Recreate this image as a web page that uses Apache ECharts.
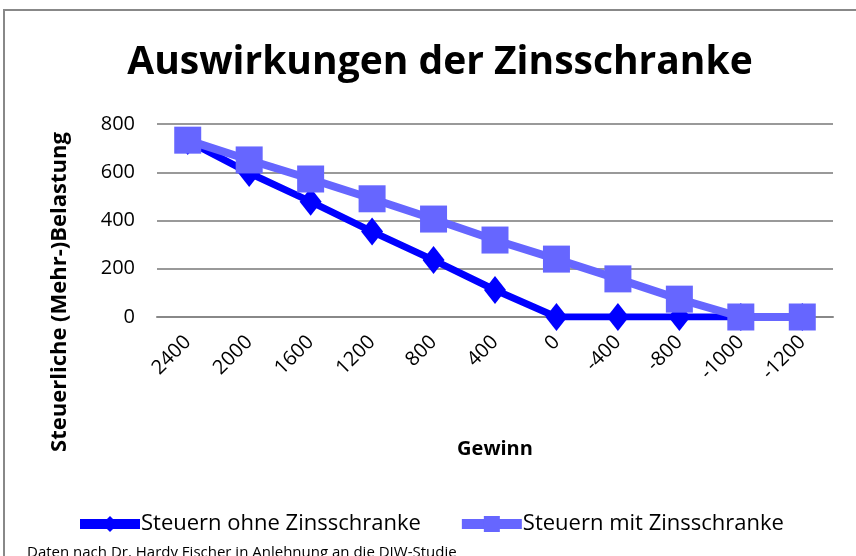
<!DOCTYPE html>
<html>
<head>
<meta charset="utf-8">
<script src="https://cdn.jsdelivr.net/npm/echarts@6/dist/echarts.min.js"></script>
<style>
  html, body { margin: 0; padding: 0; background: #fff; }
  #chart { width: 856px; height: 556px; }
</style>
</head>
<body>
<div id="chart"></div>
<script>
// Gewinn-Kategorien (x-Achse)
const categories = ["2400", "2000", "1600", "1200", "800", "400", "0", "-400", "-800", "-1000", "-1200"];
// Steuerliche Belastung
const ohneZinsschranke = [730, 597, 478, 354, 236, 112, 0, 0, 0, 0, 0];
const mitZinsschranke = [733, 651, 572, 490, 406, 319, 240, 158, 74, 0, 0];
const yTicks = { min: 0, max: 800, interval: 200 };

const font = "'Open Sans', sans-serif";
const myChart = echarts.init(document.getElementById("chart"));

const option = {
  animation: false,
  title: {
    text: "Auswirkungen der Zinsschranke",
    left: 435,
    top: 38,
    textAlign: "center",
    textStyle: { fontFamily: font, fontSize: 39, fontWeight: "bold", color: "#000" },
  },
  grid: { left: 157, right: 23, top: 124, bottom: 239 },
  legend: {
    left: 70,
    top: 508,
    itemGap: 36,
    itemWidth: 60,
    itemHeight: 20,
    lineStyle: { width: 10 },
    textStyle: { fontFamily: font, fontSize: 22, color: "#000", padding: [0, 0, 0, -4] },
    data: ["Steuern ohne Zinsschranke", "Steuern mit Zinsschranke"],
  },
  xAxis: {
    type: "category",
    data: categories,
    boundaryGap: true,
    name: "Gewinn",
    nameLocation: "middle",
    nameGap: 122,
    nameTextStyle: { fontFamily: font, fontSize: 20, fontWeight: "bold", color: "#000" },
    axisLine: { lineStyle: { color: "#888", width: 2 } },
    axisTick: { show: false },
    axisLabel: { rotate: 45, fontFamily: font, fontSize: 20, color: "#000", margin: 22 },
  },
  yAxis: {
    type: "value",
    min: yTicks.min,
    max: yTicks.max,
    interval: yTicks.interval,
    axisLine: { show: false },
    axisTick: { show: false },
    axisLabel: { fontFamily: font, fontSize: 20, color: "#000", margin: 22 },
    splitLine: { lineStyle: { color: "#999", width: 2 } },
  },
  graphic: [
    {
      type: "rect",
      shape: { x: 4, y: 10, width: 900, height: 600 },
      style: { fill: "none", stroke: "#888", lineWidth: 2 },
      silent: true,
    },
    {
      type: "text",
      x: 60,
      y: 292,
      rotation: Math.PI / 2,
      style: {
        text: "Steuerliche (Mehr-)Belastung",
        font: "bold 22px " + font,
        fill: "#000",
        textAlign: "center",
        textVerticalAlign: "middle",
      },
    },
    {
      type: "text",
      x: 27,
      y: 545,
      style: { text: "Daten nach Dr. Hardy Fischer in Anlehnung an die DIW-Studie", font: "15px " + font, fill: "#000" },
    },
  ],
  series: [
    {
      name: "Steuern ohne Zinsschranke",
      type: "line",
      data: ohneZinsschranke,
      symbol: "diamond",
      symbolSize: [22, 28],
      lineStyle: { color: "#0000ff", width: 7 },
      itemStyle: { color: "#0000ff" },
    },
    {
      name: "Steuern mit Zinsschranke",
      type: "line",
      data: mitZinsschranke,
      symbol: "rect",
      symbolSize: 27,
      lineStyle: { color: "#6666ff", width: 8 },
      itemStyle: { color: "#6666ff" },
    },
  ],
};

option && myChart.setOption(option);
window.addEventListener("resize", function () {
  myChart.resize();
});
</script>
</body>
</html>
